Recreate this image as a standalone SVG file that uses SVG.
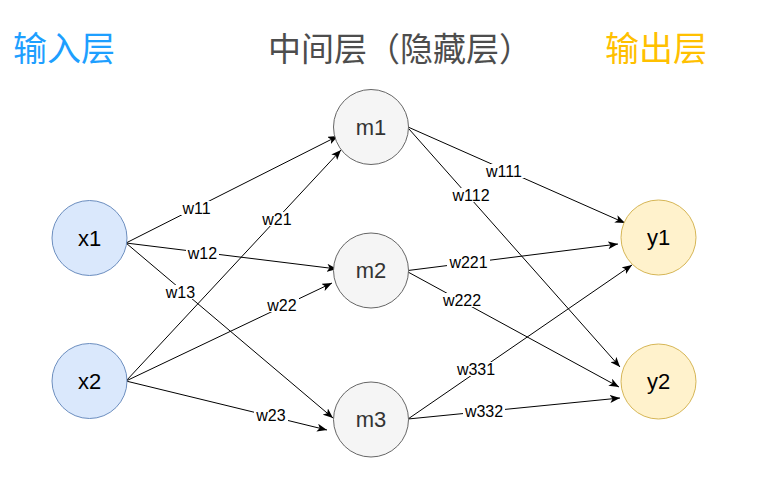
<svg xmlns="http://www.w3.org/2000/svg" width="771" height="500" viewBox="0 0 771 500">
<style>
.title{font-family:"Noto Sans CJK SC","Liberation Sans",sans-serif;font-size:34px}
.node-b{fill:#dae8fc;stroke:#6c8ebf;stroke-width:1}
.node-g{fill:#f5f5f5;stroke:#666666;stroke-width:1}
.node-y{fill:#fff2cc;stroke:#d6b656;stroke-width:1}
.nlabel{font-family:"Liberation Sans",Arial,sans-serif;font-size:22px;text-anchor:middle}
.edge{stroke:#000;stroke-width:1;fill:none;marker-end:url(#arrow)}
.wl{font-family:"Liberation Sans",Arial,sans-serif;font-size:16px;text-anchor:middle;fill:#000}
.wbg{fill:#fff}
</style>
<defs>
<marker id="arrow" viewBox="0 0 10 8" refX="10" refY="4" markerWidth="10" markerHeight="8" markerUnits="userSpaceOnUse" orient="auto">
<path d="M0,0 L10,4 L0,8 L2.5,4 z" fill="#000"/>
</marker>
</defs>
<rect width="771" height="500" fill="#fff"/>
<g id="titles">
<text class="title" x="13" y="61" fill="#1e9fff">输入层</text>
<text class="title" x="268" y="61" fill="#4d4d4d" style="font-size:33px">中间层（隐藏层）</text>
<text class="title" x="605" y="61" fill="#ffc000">输出层</text>
</g>
<g id="connectors">
<line class="edge" x1="126" y1="243" x2="338" y2="136"/>
<line class="edge" x1="126" y1="243" x2="337" y2="269"/>
<line class="edge" x1="126" y1="243" x2="333" y2="418"/>
<line class="edge" x1="126" y1="381" x2="341" y2="150"/>
<line class="edge" x1="126" y1="381" x2="332" y2="283"/>
<line class="edge" x1="126" y1="381" x2="327" y2="430"/>
<line class="edge" x1="408" y1="127" x2="625" y2="223"/>
<line class="edge" x1="409" y1="129" x2="620" y2="367"/>
<line class="edge" x1="408" y1="270.5" x2="618" y2="244"/>
<line class="edge" x1="408" y1="272" x2="619" y2="387"/>
<line class="edge" x1="408" y1="419" x2="632" y2="265"/>
<line class="edge" x1="408" y1="419" x2="620" y2="398"/>
<g id="edge-labels">
<rect class="wbg" x="181" y="201" width="31" height="14"/><text class="wl" x="196.5" y="213.5">w11</text>
<rect class="wbg" x="261" y="212" width="32" height="14"/><text class="wl" x="277" y="224.5">w21</text>
<rect class="wbg" x="186" y="246" width="33" height="14"/><text class="wl" x="202.5" y="258.5">w12</text>
<rect class="wbg" x="164" y="285" width="33" height="14"/><text class="wl" x="180.5" y="297.5">w13</text>
<rect class="wbg" x="265" y="298" width="34" height="14"/><text class="wl" x="282" y="311">w22</text>
<rect class="wbg" x="254" y="408" width="34" height="14"/><text class="wl" x="271" y="421">w23</text>
<rect class="wbg" x="484" y="164" width="40" height="14"/><text class="wl" x="504" y="176.5">w111</text>
<rect class="wbg" x="450" y="188" width="42" height="14"/><text class="wl" x="471" y="201">w112</text>
<rect class="wbg" x="447" y="255" width="43" height="14"/><text class="wl" x="468.5" y="268">w221</text>
<rect class="wbg" x="441" y="293" width="43" height="14"/><text class="wl" x="462" y="305.5">w222</text>
<rect class="wbg" x="455" y="362" width="42" height="14"/><text class="wl" x="476" y="374.5">w331</text>
<rect class="wbg" x="463" y="404" width="42" height="14"/><text class="wl" x="484" y="417">w332</text>
</g>
</g>
<g id="node-x1"><circle class="node-b" cx="89.5" cy="238" r="37.5"/><text class="nlabel" x="89.5" y="245.5" fill="#000">x1</text></g>
<g id="node-x2"><circle class="node-b" cx="89.5" cy="381" r="37.5"/><text class="nlabel" x="89.5" y="388.5" fill="#000">x2</text></g>
<g id="node-m1"><circle class="node-g" cx="371" cy="127" r="37.5"/><text class="nlabel" x="371" y="134.5" fill="#333">m1</text></g>
<g id="node-m2"><circle class="node-g" cx="371" cy="270.5" r="37.5"/><text class="nlabel" x="371" y="278" fill="#333">m2</text></g>
<g id="node-m3"><circle class="node-g" cx="371" cy="419.5" r="37.5"/><text class="nlabel" x="371" y="427" fill="#333">m3</text></g>
<g id="node-y1"><circle class="node-y" cx="658.5" cy="237.5" r="37.5"/><text class="nlabel" x="658.5" y="245" fill="#000">y1</text></g>
<g id="node-y2"><circle class="node-y" cx="658.5" cy="381.5" r="37.5"/><text class="nlabel" x="658.5" y="389" fill="#000">y2</text></g>
</svg>
